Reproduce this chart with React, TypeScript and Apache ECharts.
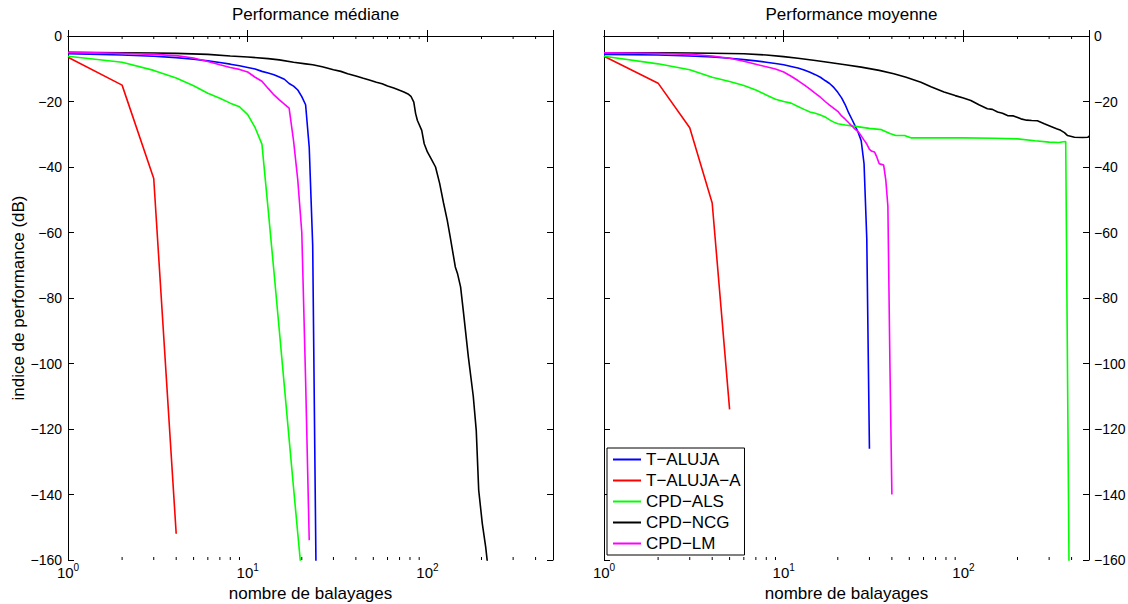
import React, { useEffect, useRef } from 'react';
import * as echarts from 'echarts';

const seriesNames = ['T-ALUJA', 'T-ALUJA-A', 'CPD-ALS', 'CPD-NCG', 'CPD-LM'];
const seriesColors = ['#0000ff', '#ff0000', '#00ff00', '#000000', '#ff00ff'];
const panelTitles = ['Performance médiane', 'Performance moyenne'];
const xAxisTitle = 'nombre de balayages';
const yAxisTitle = 'indice de performance (dB)';
const xMin = 1;
const xMax = 500;
const yMin = -160;
const yMax = 0;
const yStep = 20;
const minorTicks = [2, 3, 4, 5, 6, 7, 8, 9, 20, 30, 40, 50, 60, 70, 80, 90, 200, 300, 400];

// ---- Performance médiane ----
const tAlujaMed = [
  [1, -5.4], [2, -5.8], [3, -6.2], [4, -6.6], [5, -7.1], [6, -7.6], [7, -8.1], [8, -8.6],
  [9, -9.1], [10, -9.6], [11, -10.1], [12, -10.8], [13, -11.3], [14, -11.8], [15, -12.5],
  [16, -13.2], [17, -14.5], [18, -15.3], [19, -16.5], [20, -18.5], [21, -21], [22, -34],
  [23, -64], [24, -163],
];
const tAlujaAMed = [[1, -6.5], [2, -15], [3, -43.5], [4, -152]];
const cpdAlsMed = [
  [1, -6.2], [2, -8], [3, -10.5], [4, -12.8], [5, -15.2], [6, -17.5], [7, -19], [8, -20.5],
  [9, -21.6], [10, -24], [11, -28], [12, -33], [13, -53], [14, -72], [15, -90], [16, -107],
  [17, -123], [18, -138], [19, -152], [20, -165],
];
const cpdNcgMed = [
  [1, -5], [2, -5.1], [3, -5.2], [4, -5.3], [6, -5.6], [8, -6.1], [10, -6.4], [13, -6.9],
  [15, -7.3], [18, -8], [21, -8.5], [23, -8.8], [26, -9.4], [30, -10.3], [33, -10.8],
  [36, -11.5], [40, -12.2], [44, -12.9], [48, -13.5], [52, -14.1], [56, -14.6], [60, -15.3],
  [65, -15.9], [70, -16.6], [74, -17.1], [78, -17.7], [81, -18.4], [84, -20.2], [86, -23.7],
  [88, -25.8], [93, -28.8], [96, -32.9], [100, -35.4], [105, -37.5], [111, -40], [117, -45],
  [123, -51], [129, -56.3], [134, -61.4], [143, -70.5], [147, -72.5], [153, -76.6],
  [159, -84.7], [169, -98], [180, -110], [187, -120.4], [193, -138.7], [202, -148.8],
  [211, -156], [216, -161],
];
const cpdLmMed = [
  [1, -5], [2, -5.3], [3, -5.6], [4, -6], [5, -6.7], [6, -7.8], [7, -8.8], [8, -9.6],
  [9, -10.2], [10, -11], [11, -12.6], [12, -13.8], [13, -16], [14, -18], [15, -19.5],
  [16, -20.8], [17, -22], [18, -32], [19, -44], [20, -60], [21, -105], [22, -154],
];

// ---- Performance moyenne ----
const tAlujaMoy = [
  [1, -5.6], [2, -5.8], [3, -6.1], [4, -6.4], [5, -6.8], [6, -7.2], [7, -7.6], [8, -8],
  [9, -8.4], [10, -8.8], [11, -9.3], [12, -9.8], [13, -10.4], [14, -11.1], [15, -11.8],
  [16, -12.6], [17, -13.6], [18, -14.5], [19, -15.7], [20, -17.2], [21, -18.9], [22, -21],
  [23, -23.5], [24, -25.5], [25, -27.5], [26, -29.5], [27, -32], [28, -39], [29, -62],
  [30, -126],
];
const tAlujaAMoy = [[1, -6.2], [2, -14.4], [3, -28], [4, -51], [5, -114]];
const cpdAlsMoy = [
  [1, -6.2], [2, -8.5], [3, -10.3], [4, -12.6], [5, -13.9], [6, -15.1], [7, -16.5],
  [8, -18], [9, -19.3], [10, -20], [11, -20.5], [12, -21.5], [13, -22.4], [14, -23.2],
  [15, -23.6], [16, -24.1], [17, -24.7], [18, -25.6], [19, -26.3], [20, -26.8], [22, -27.2],
  [25, -27.6], [30, -28.2], [35, -28.6], [39, -29.8], [42, -30.4], [47, -30.4], [51, -31.1],
  [100, -31.1], [150, -31.2], [200, -31.4], [250, -32], [300, -32.4], [340, -32.5],
  [360, -32.3], [371, -32.2], [387, -161],
];
const cpdNcgMoy = [
  [1, -5.1], [2, -5.15], [3, -5.2], [4, -5.25], [6, -5.4], [8, -5.8], [10, -6.3], [12, -6.8],
  [15, -7.5], [18, -8.1], [22, -8.8], [27, -9.5], [34, -10.5], [41, -11.5], [48, -12.6],
  [58, -14.1], [66, -15.5], [78, -17.1], [90, -18.2], [100, -18.9], [110, -19.7], [122, -21],
  [136, -22.2], [145, -22.4], [155, -23.2], [165, -23.6], [176, -24.3], [190, -24.4],
  [209, -25.3], [225, -25.7], [240, -25.8], [258, -25.9], [282, -26.8], [307, -27.6],
  [330, -28.3], [348, -28.8], [365, -29.5], [380, -30.4], [415, -30.9], [460, -31],
  [494, -30.9], [500, -30.5],
];
const cpdLmMoy = [
  [1, -5.1], [2, -5.3], [3, -5.6], [4, -6.1], [5, -6.8], [6, -7.7], [7, -8.6], [8, -9.4],
  [9, -10.1], [10, -11], [11, -12.3], [12, -13.6], [13, -14.9], [14, -16.2], [15, -17.5],
  [16, -18.7], [17, -20], [18, -21.1], [19, -22.1], [20, -23], [21, -24.4], [22, -25.4],
  [23, -26.5], [24, -27.5], [25, -28.5], [26, -29.2], [27, -30.5], [28, -31.8], [29, -33],
  [30, -34.6], [31, -35.2], [32, -35.4], [33, -37], [34, -39], [35, -39.2], [36, -39.4],
  [37, -44], [38, -52], [39, -100], [40, -140],
];

const medianData = [tAlujaMed, tAlujaAMed, cpdAlsMed, cpdNcgMed, cpdLmMed];
const meanData = [tAlujaMoy, tAlujaAMoy, cpdAlsMoy, cpdNcgMoy, cpdLmMoy];

const FONT = '"Liberation Sans", Arial, Helvetica, sans-serif';
const MINUS = '\u2212';

function logLabel(v: number) {
  const l = Math.log10(v);
  const e = Math.round(l);
  if (Math.abs(l - e) > 1e-6) return '';
  return `{b|10}{s|${e}}`;
}
function yLabel(v: number) {
  return String(v).replace('-', MINUS);
}

export default function App() {
  const ref = useRef<HTMLDivElement>(null);
  useEffect(() => {
    const chart = echarts.init(ref.current!, null, { renderer: 'svg' });
    const grids = [
      { left: 68, top: 36, width: 485, height: 524, outerBoundsMode: 'none', containLabel: false },
      { left: 604, top: 36, width: 485, height: 524, outerBoundsMode: 'none', containLabel: false },
    ];
    const xAxes: any[] = [];
    const yAxes: any[] = [];
    grids.forEach((_, g) => {
      const base = {
        type: 'log',
        logBase: 10,
        gridIndex: g,
        min: xMin,
        max: xMax,
        axisLine: { show: true, lineStyle: { color: '#000', width: 1 } },
        axisTick: { show: true, inside: true, length: 6, lineStyle: { color: '#000', width: 1 } },
        splitLine: { show: false },
        minorTick: { show: false },
      };
      xAxes.push({
        ...base,
        position: 'bottom',
        axisLabel: {
          show: true,
          formatter: logLabel,
          margin: 4,
          color: '#000',
          rich: {
            b: { fontSize: 15, lineHeight: 16, fontFamily: FONT, color: '#000', verticalAlign: 'bottom' },
            s: { fontSize: 10, lineHeight: 10, fontFamily: FONT, color: '#000', verticalAlign: 'bottom', padding: [0, 0, 8, 0] },
          },
        },
      });
      xAxes.push({ ...base, position: 'top', axisLabel: { show: false } });
      const ybase = {
        type: 'value',
        gridIndex: g,
        min: yMin,
        max: yMax,
        interval: yStep,
        axisLine: { show: true, lineStyle: { color: '#000', width: 1 } },
        axisTick: { show: true, inside: true, length: 6, lineStyle: { color: '#000', width: 1 } },
        splitLine: { show: false },
      };
      yAxes.push({
        ...ybase,
        position: 'left',
        axisLabel: { show: g === 0, fontSize: 14, color: '#000', margin: 6, fontFamily: FONT, formatter: yLabel },
        ...(g === 0
          ? {
              name: yAxisTitle,
              nameLocation: 'middle',
              nameGap: 41,
              nameTextStyle: { fontSize: 17, color: '#000', fontFamily: FONT },
            }
          : {}),
      });
      yAxes.push({
        ...ybase,
        position: 'right',
        axisLabel: { show: g === 1, fontSize: 14, color: '#000', margin: 5, fontFamily: FONT, formatter: yLabel },
      });
    });

    const series: any[] = [];
    [medianData, meanData].forEach((panel, g) => {
      panel.forEach((data, i) => {
        series.push({
          type: 'line',
          name: seriesNames[i],
          xAxisIndex: g * 2,
          yAxisIndex: g * 2,
          data,
          showSymbol: false,
          symbol: 'none',
          color: seriesColors[i],
          lineStyle: { color: seriesColors[i], width: 1.6 },
          clip: true,
          silent: true,
        });
      });
      series.push({
        type: 'custom',
        name: 'minor' + g,
        xAxisIndex: g * 2,
        yAxisIndex: g * 2,
        silent: true,
        data: minorTicks.map((v) => [v, yMin]),
        renderItem: (params: any, api: any) => {
          const x = api.value(0);
          const pb = api.coord([x, yMin]);
          const pt = api.coord([x, yMax]);
          const st = { stroke: '#000', lineWidth: 1 };
          return {
            type: 'group',
            children: [
              { type: 'line', shape: { x1: pb[0], y1: pb[1], x2: pb[0], y2: pb[1] - 3 }, style: st },
              { type: 'line', shape: { x1: pt[0], y1: pt[1], x2: pt[0], y2: pt[1] + 3 }, style: st },
            ],
          };
        },
      });
    });

    chart.setOption({
      animation: false,
      backgroundColor: '#fff',
      textStyle: { fontFamily: FONT },
      title: panelTitles.map((t, g) => ({
        text: t,
        left: grids[g].left + grids[g].width / 2,
        textAlign: 'center',
        top: 1,
        textStyle: { fontSize: 17, fontWeight: 'normal', color: '#000', fontFamily: FONT },
      })),
      graphic: grids.map((gr) => ({
        type: 'text',
        x: gr.left + gr.width / 2,
        y: 585,
        silent: true,
        style: {
          text: xAxisTitle,
          fill: '#000',
          font: `17px ${FONT}`,
          textAlign: 'center',
          textVerticalAlign: 'top',
          align: 'center',
          verticalAlign: 'top',
        },
      })),
      legend: {
        orient: 'vertical',
        left: 607,
        top: 448,
        data: seriesNames,
        formatter: (n: string) => n.replace(/-/g, MINUS),
        icon: 'rect',
        itemWidth: 28,
        itemHeight: 2,
        itemGap: 4,
        textStyle: { fontSize: 17, color: '#000', fontFamily: FONT },
        borderColor: '#000',
        borderWidth: 1,
        borderRadius: 0,
        padding: [3, 4, 3, 6],
        backgroundColor: '#fff',
        selectedMode: false,
      },
      grid: grids,
      xAxis: xAxes,
      yAxis: yAxes,
      series,
    });
    return () => chart.dispose();
  }, []);
  return <div ref={ref} style={{ position: 'absolute', left: 0, top: 0, width: 1128, height: 604 }} />;
}
